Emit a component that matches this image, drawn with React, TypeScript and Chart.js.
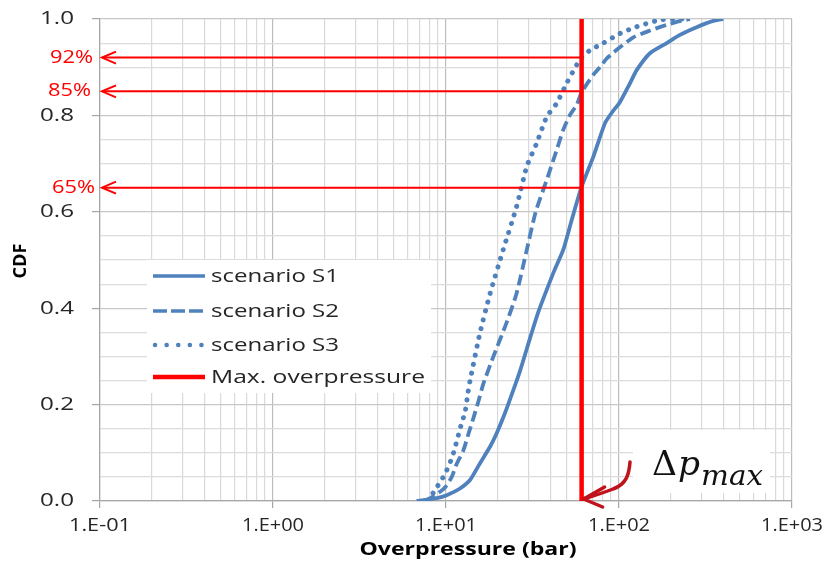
import React, { useEffect, useRef } from "react";
import { Chart, registerables } from "chart.js";
Chart.register(...registerables);

// ---------- data ----------
const xTickLabels = ["1.E-01", "1.E+00", "1.E+01", "1.E+02", "1.E+03"];
const xDecades = [0.1, 1, 10, 100, 1000];
const yTickLabels = ["0.0", "0.2", "0.4", "0.6", "0.8", "1.0"];
const yTickValues = [0, 0.2, 0.4, 0.6, 0.8, 1.0];
const seriesNames = ["scenario S1", "scenario S2", "scenario S3", "Max. overpressure"];
const xTitle = "Overpressure (bar)";
const yTitle = "CDF";

const s1X = [6.77, 8.84, 10.1, 12.05, 13.8, 15.7, 18.0, 19.6, 21.9, 24.5, 26.8, 30.6, 34.0, 38.2, 42.5, 47.6, 53.0, 60.8, 71.0, 83.0, 91.0, 101.4, 115.9, 126.5, 151, 188.8, 225, 281, 351, 401];
const s1Y = [0, 0.006, 0.012, 0.026, 0.044, 0.078, 0.113, 0.14, 0.182, 0.23, 0.27, 0.338, 0.39, 0.438, 0.48, 0.521, 0.58, 0.652, 0.714, 0.784, 0.806, 0.828, 0.867, 0.894, 0.929, 0.95, 0.967, 0.983, 0.996, 1.0];

const s2X = [7.56, 8.84, 9.87, 10.8, 11.5, 12.6, 13.5, 14.4, 15.4, 16.4, 18.8, 22.4, 25.6, 29.3, 33.0, 38.2, 43.6, 47.6, 52.1, 57.0, 60.8, 71.0, 77.6, 84.9, 97, 121, 151, 188.8, 215.4, 257];
const s2Y = [0, 0.014, 0.028, 0.05, 0.076, 0.105, 0.14, 0.172, 0.207, 0.242, 0.3, 0.37, 0.431, 0.521, 0.6, 0.666, 0.728, 0.77, 0.801, 0.822, 0.848, 0.884, 0.9, 0.918, 0.936, 0.962, 0.976, 0.988, 0.994, 1.0];

const s3X = [7.9, 8.64, 9.45, 10.1, 10.8, 11.3, 11.8, 12.3, 12.9, 13.4, 13.8, 15.7, 18.0, 21.4, 25.6, 29.3, 33.4, 38.2, 43.6, 49.9, 57.0, 60.8, 68.0, 81.1, 101.4, 126.5, 172.6, 234];
const s3Y = [0, 0.023, 0.044, 0.064, 0.089, 0.112, 0.137, 0.161, 0.185, 0.225, 0.251, 0.348, 0.431, 0.521, 0.611, 0.694, 0.742, 0.797, 0.825, 0.867, 0.905, 0.92, 0.935, 0.95, 0.97, 0.984, 0.998, 1.0];

const maxOverpressure = 60.8;
const markerLevels = [0.92, 0.85, 0.65];
const markerLabels = ["92%", "85%", "65%"];

// ---------- styles ----------
const BLUE = "#4f81bd";
const RED = "#ff0000";
const DARKRED = "#c0141c";
const TEXT = "#262626";
const SANS = "'Open Sans', 'DejaVu Sans', sans-serif";
const SERIF = "'DejaVu Serif', 'Liberation Serif', serif";

function fitText(
  ctx: CanvasRenderingContext2D,
  text: string,
  x: number,
  y: number,
  font: string,
  width: number,
  align: "left" | "right" | "center",
  color: string,
  baseline: CanvasTextBaseline = "middle"
) {
  ctx.save();
  ctx.font = font;
  ctx.fillStyle = color;
  ctx.textBaseline = baseline;
  ctx.textAlign = "left";
  const w = ctx.measureText(text).width;
  const sx = width / w;
  const x0 = align === "left" ? x : align === "right" ? x - width : x - width / 2;
  ctx.translate(x0, y);
  ctx.scale(sx, 1);
  ctx.fillText(text, 0, 0);
  ctx.restore();
}

const pts = (xs: number[], ys: number[]) => xs.map((x, i) => ({ x, y: ys[i] }));

const xGridValues: number[] = [];
for (let e = -1; e <= 2; e++) {
  for (let m = 1; m <= 9; m++) xGridValues.push(parseFloat((m * Math.pow(10, e)).toPrecision(4)));
}
xGridValues.push(1000);
const isDecade = (v: number) => Math.abs(Math.log10(v) - Math.round(Math.log10(v))) < 1e-9;

const yGridValues: number[] = [];
for (let i = 0; i <= 20; i++) yGridValues.push(i / 20);
const isYMajor = (v: number) => Math.abs(v * 5 - Math.round(v * 5)) < 1e-9;

const annotPlugin = {
  id: "annot",
  afterDatasetsDraw(chart: any) {
    const ctx: CanvasRenderingContext2D = chart.ctx;
    const xs = chart.scales.x;
    const ys = chart.scales.y;
    const { left, bottom } = chart.chartArea;
    const xr = xs.getPixelForValue(maxOverpressure);

    // horizontal marker arrows
    ctx.save();
    ctx.strokeStyle = RED;
    ctx.lineWidth = 2;
    ctx.lineCap = "butt";
    markerLevels.forEach((lv) => {
      const y = ys.getPixelForValue(lv);
      ctx.beginPath();
      ctx.moveTo(xr, y);
      ctx.lineTo(left + 2, y);
      ctx.stroke();
      ctx.beginPath();
      ctx.moveTo(left + 16, y - 6);
      ctx.lineTo(left + 2, y);
      ctx.lineTo(left + 16, y + 6);
      ctx.stroke();
    });
    ctx.restore();

    // legend box
    ctx.save();
    ctx.fillStyle = "#ffffff";
    ctx.fillRect(left + 47, 260, 284, 133);
    const legY = [276, 311, 345, 377];
    const styles = [
      { c: BLUE, w: 3.5, d: [] as number[], cap: "butt" },
      { c: BLUE, w: 3.5, d: [14, 4], cap: "butt" },
      { c: BLUE, w: 4.5, d: [0.1, 11.5], cap: "round" },
      { c: RED, w: 4.5, d: [] as number[], cap: "butt" },
    ];
    const legWidths = [128, 128, 128, 214];
    styles.forEach((s, i) => {
      ctx.save();
      ctx.strokeStyle = s.c;
      ctx.lineWidth = s.w;
      ctx.setLineDash(s.d);
      ctx.lineCap = s.cap as CanvasLineCap;
      ctx.beginPath();
      ctx.moveTo(left + 53 + (s.cap === "round" ? 2 : 0), legY[i]);
      ctx.lineTo(left + 105, legY[i]);
      ctx.stroke();
      ctx.restore();
      fitText(ctx, seriesNames[i], left + 111, legY[i] + 1, `18px ${SANS}`, legWidths[i], "left", TEXT);
    });
    ctx.restore();

    // delta p annotation
    ctx.save();
    ctx.fillStyle = "#ffffff";
    ctx.fillRect(633, 430, 137, 63);
    fitText(ctx, "Δ", 652, 475, `34px ${SERIF}`, 25, "left", "#111111", "alphabetic");
    fitText(ctx, "p", 678, 475, `italic 34px ${SERIF}`, 22, "left", "#111111", "alphabetic");
    fitText(ctx, "max", 701, 485, `italic 27px ${SERIF}`, 62, "left", "#111111", "alphabetic");

    // curved arrow
    const tipX = xr + 2;
    const tipY = bottom - 2;
    ctx.strokeStyle = DARKRED;
    ctx.lineWidth = 3.5;
    ctx.lineCap = "round";
    ctx.lineJoin = "round";
    ctx.beginPath();
    ctx.moveTo(630, 462);
    ctx.bezierCurveTo(629, 474, 627, 484, 613, 489);
    ctx.bezierCurveTo(603, 493, 593, 496, tipX, tipY);
    ctx.stroke();
    ctx.beginPath();
    ctx.moveTo(tipX + 21, tipY - 12);
    ctx.lineTo(tipX, tipY);
    ctx.lineTo(tipX + 19, tipY + 8);
    ctx.stroke();
    ctx.restore();
  },
  afterDraw(chart: any) {
    const ctx: CanvasRenderingContext2D = chart.ctx;
    const xs = chart.scales.x;
    const ys = chart.scales.y;
    const { left, bottom, right } = chart.chartArea;

    yTickValues.forEach((v, i) => {
      const y = ys.getPixelForValue(v);
      fitText(ctx, yTickLabels[i], left - 26, y, `19px ${SANS}`, 34, "right", TEXT);
    });
    xDecades.forEach((v, i) => {
      const x = xs.getPixelForValue(v);
      fitText(ctx, xTickLabels[i], x, bottom + 25, `19px ${SANS}`, 62, "center", TEXT);
    });

    const mlRight = [93, 91, 95];
    markerLevels.forEach((lv, i) => {
      const y = ys.getPixelForValue(lv);
      fitText(ctx, markerLabels[i], mlRight[i], y, `18px ${SANS}`, 43, "right", RED);
    });

    // axis titles
    fitText(ctx, xTitle, (left + right) / 2 + 22, bottom + 49, `bold 18px ${SANS}`, 217, "center", "#000000");
    ctx.save();
    ctx.translate(21, 261);
    ctx.rotate(-Math.PI / 2);
    fitText(ctx, yTitle, 0, 0, `bold 18px ${SANS}`, 35, "center", "#000000");
    ctx.restore();
  },
};

export default function App() {
  const ref = useRef<HTMLCanvasElement>(null);
  useEffect(() => {
    if (!ref.current) return;
    const chart = new Chart(ref.current, {
      type: "scatter",
      data: {
        datasets: [
          {
            label: seriesNames[3],
            data: [
              { x: maxOverpressure, y: 0 },
              { x: maxOverpressure, y: 1 },
            ],
            borderColor: RED,
            borderWidth: 4.5,
            showLine: true,
            pointRadius: 0,
          },
          {
            label: seriesNames[0],
            data: pts(s1X, s1Y),
            borderColor: BLUE,
            borderWidth: 3.8,
            showLine: true,
            pointRadius: 0,
            borderJoinStyle: "round",
            tension: 0.2,
          },
          {
            label: seriesNames[1],
            data: pts(s2X, s2Y),
            borderColor: BLUE,
            borderWidth: 3.8,
            borderDash: [11, 5],
            showLine: true,
            pointRadius: 0,
            tension: 0.2,
          },
          {
            label: seriesNames[2],
            data: pts(s3X, s3Y),
            borderColor: BLUE,
            borderWidth: 5,
            borderDash: [0.1, 9],
            borderCapStyle: "round",
            showLine: true,
            pointRadius: 0,
            tension: 0.2,
          },
        ] as any,
      },
      options: {
        animation: false,
        responsive: false,
        maintainAspectRatio: false,
        layout: { padding: { top: 19, right: 33, left: 0, bottom: 0 } },
        plugins: { legend: { display: false }, tooltip: { enabled: false } },
        scales: {
          x: {
            type: "logarithmic",
            min: 0.1,
            max: 1000,
            position: "bottom",
            afterBuildTicks: (scale: any) => {
              scale.ticks = xGridValues.map((v) => ({ value: v, major: isDecade(v) }));
            },
            afterFit: (scale: any) => {
              scale.height = 60;
            },
            ticks: { display: false },
            grid: {
              color: (c: any) => (c.tick && isDecade(c.tick.value) ? "#bdbdbd" : "#d9d9d9"),
              lineWidth: 1.2,
              drawTicks: true,
              tickLength: 7,
              tickColor: (c: any) => (c.tick && isDecade(c.tick.value) ? "#a6a6a6" : "rgba(0,0,0,0)"),
            },
            border: { display: true, color: "#a6a6a6", width: 1.2 },
          },
          y: {
            type: "linear",
            min: 0,
            max: 1,
            afterBuildTicks: (scale: any) => {
              scale.ticks = yGridValues.map((v) => ({ value: v }));
            },
            afterFit: (scale: any) => {
              scale.width = 100;
            },
            ticks: { display: false },
            grid: {
              color: (c: any) => (c.tick && isYMajor(c.tick.value) ? "#c8c8c8" : "#dcdcdc"),
              lineWidth: 1.2,
              drawTicks: true,
              tickLength: 8,
              tickColor: (c: any) => (c.tick && isYMajor(c.tick.value) ? "#a6a6a6" : "rgba(0,0,0,0)"),
            },
            border: { display: true, color: "#a6a6a6", width: 1.2 },
          },
        },
      } as any,
      plugins: [annotPlugin],
    });
    return () => chart.destroy();
  }, []);
  return (
    <div style={{ position: "fixed", left: 0, top: 0, width: 825, height: 561, background: "#ffffff" }}>
      <canvas ref={ref} width={825} height={561} style={{ display: "block" }} />
    </div>
  );
}
